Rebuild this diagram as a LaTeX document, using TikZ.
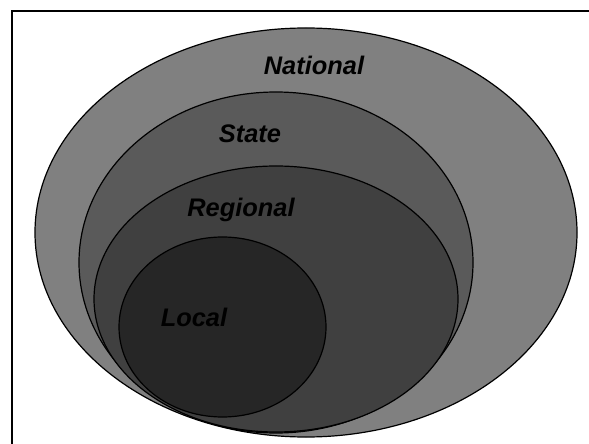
\documentclass[tikz,border=0pt]{standalone}
\usepackage{fontspec}
\setmainfont{Liberation Sans}
\usepackage{tikz}
\usetikzlibrary{shapes.geometric}

\definecolor{nationalgray}{RGB}{128,128,128}
\definecolor{stategray}{RGB}{90,90,90}
\definecolor{regionalgray}{RGB}{64,64,64}
\definecolor{localgray}{RGB}{38,38,38}

\tikzset{
    level/.style={ellipse, draw=black, line width=1.2bp, inner sep=0pt},
    levelname/.style={anchor=base, inner sep=0pt, font=\fontsize{25.5}{28}\selectfont\bfseries\itshape}
}

\begin{document}
\begin{tikzpicture}[x=1bp, y=-1bp]
        \useasboundingbox (0,0) rectangle (589,444);

        % Frame
        \draw[line width=2.4bp] (12,444) |- (589,10.8);

        % National
        \node[level, fill=nationalgray, minimum width=542bp, minimum height=409bp] (national) at (306,232.5) {};
        % State
        \node[level, fill=stategray, minimum width=394bp, minimum height=341bp] (state) at (276,262.5) {};
        % Regional
        \node[level, fill=regionalgray, minimum width=364bp, minimum height=266bp] (regional) at (276,299) {};
        % Local
        \node[level, fill=localgray, minimum width=207bp, minimum height=180bp] (local) at (222.5,327) {};

        % Labels
        \node[levelname] (nationallabel) at (314,75) {National};
        \node[levelname] (statelabel) at (250,143) {State};
        \node[levelname] (regionallabel) at (241,217) {Regional};
        \node[levelname] (locallabel) at (194,326) {Local};
    \end{tikzpicture}
\end{document}
